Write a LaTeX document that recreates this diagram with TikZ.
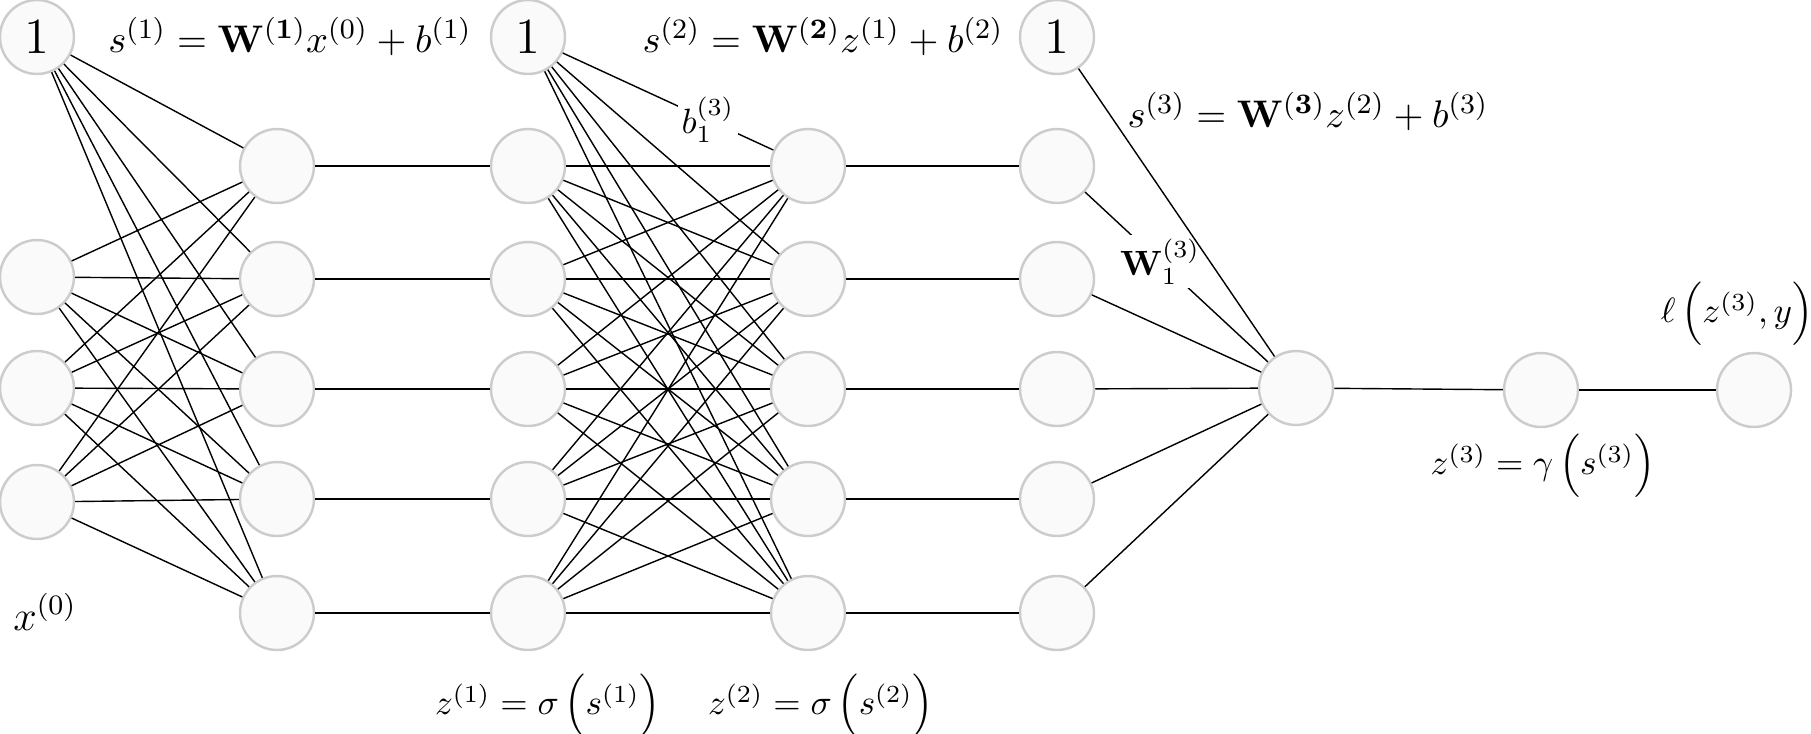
\documentclass[tikz,border=0pt]{standalone}
\usepackage{amsmath}
\definecolor{ring}{HTML}{CCCCCC}
\definecolor{cell}{HTML}{FAFAFA}

\begin{document}
\begin{tikzpicture}[x=1cm,y=-1cm,
  neuron/.style={circle,draw=ring,fill=cell,line width=0.7pt,minimum size=0.74cm,inner sep=0pt},
  edgelabel/.style={fill=white,inner sep=1pt},
  formula/.style={font=\fontsize{11.4}{14}\selectfont}]
  \useasboundingbox (0,0) rectangle (18.11,7.33);
  % bias units
  \node[neuron,font=\Large] (b0) at (0.37,0.37) {$1$};
  \node[neuron,font=\Large] (b1) at (5.28,0.37) {$1$};
  \node[neuron,font=\Large] (b2) at (10.57,0.37) {$1$};
  % input layer
  \foreach \i/\y in {1/2.77,2/3.88,3/5.02}
    \node[neuron] (x\i) at (0.37,\y) {};
  % hidden layers
  \foreach \i/\y in {1/1.66,2/2.79,3/3.89,4/4.99,5/6.13} {
    \node[neuron] (s1-\i) at (2.77,\y) {};
    \node[neuron] (z1-\i) at (5.28,\y) {};
    \node[neuron] (s2-\i) at (8.08,\y) {};
    \node[neuron] (z2-\i) at (10.57,\y) {};
  }
  % output and loss
  \node[neuron] (s3) at (12.96,3.88) {};
  \node[neuron] (z3) at (15.41,3.90) {};
  \node[neuron] (loss) at (17.54,3.90) {};

  \foreach \j in {1,...,5} {
    \draw (b0) -- (s1-\j);
    \foreach \i in {1,2,3} \draw (x\i) -- (s1-\j);
    \draw (s1-\j) -- (z1-\j);
    \foreach \i in {1,...,5} \draw (z1-\i) -- (s2-\j);
    \draw (s2-\j) -- (z2-\j);
  }
  \foreach \j in {2,...,5} {
    \draw (b1) -- (s2-\j);
    \draw (z2-\j) -- (s3);
  }
  \draw (b1) -- node[edgelabel,pos=0.69] (blab) {$b_1^{(3)}$} (s2-1);
  \draw (z2-1) -- node[edgelabel,pos=0.41] (wlab) {$\mathbf{W}_1^{(3)}$} (s3);
  \draw (b2) -- (s3);
  \draw (s3) -- (z3);
  \draw (z3) -- (loss);

  % formulas
  \node[formula] (eq1) at (2.90,0.37) {$s^{(1)}=\mathbf{W}^{(\mathbf{1})}x^{(0)}+b^{(1)}$};
  \node[formula] (eq2) at (8.23,0.37) {$s^{(2)}=\mathbf{W}^{(\mathbf{2})}z^{(1)}+b^{(2)}$};
  \node[formula] (eq3) at (13.08,1.12) {$s^{(3)}=\mathbf{W}^{(\mathbf{3})}z^{(2)}+b^{(3)}$};
  \node[font=\large] (xlab) at (0.45,6.12) {$x^{(0)}$};
  \node (act1) at (5.48,7.06) {$z^{(1)}=\sigma\,\Bigl(s^{(1)}\Bigr)$};
  \node (act2) at (8.21,7.06) {$z^{(2)}=\sigma\,\Bigl(s^{(2)}\Bigr)$};
  \node (act3) at (15.43,4.66) {$z^{(3)}=\gamma\,\Bigl(s^{(3)}\Bigr)$};
  \node (llab) at (17.37,3.14) {$\ell\,\Bigl(z^{(3)},y\Bigr)$};
\end{tikzpicture}
\end{document}
